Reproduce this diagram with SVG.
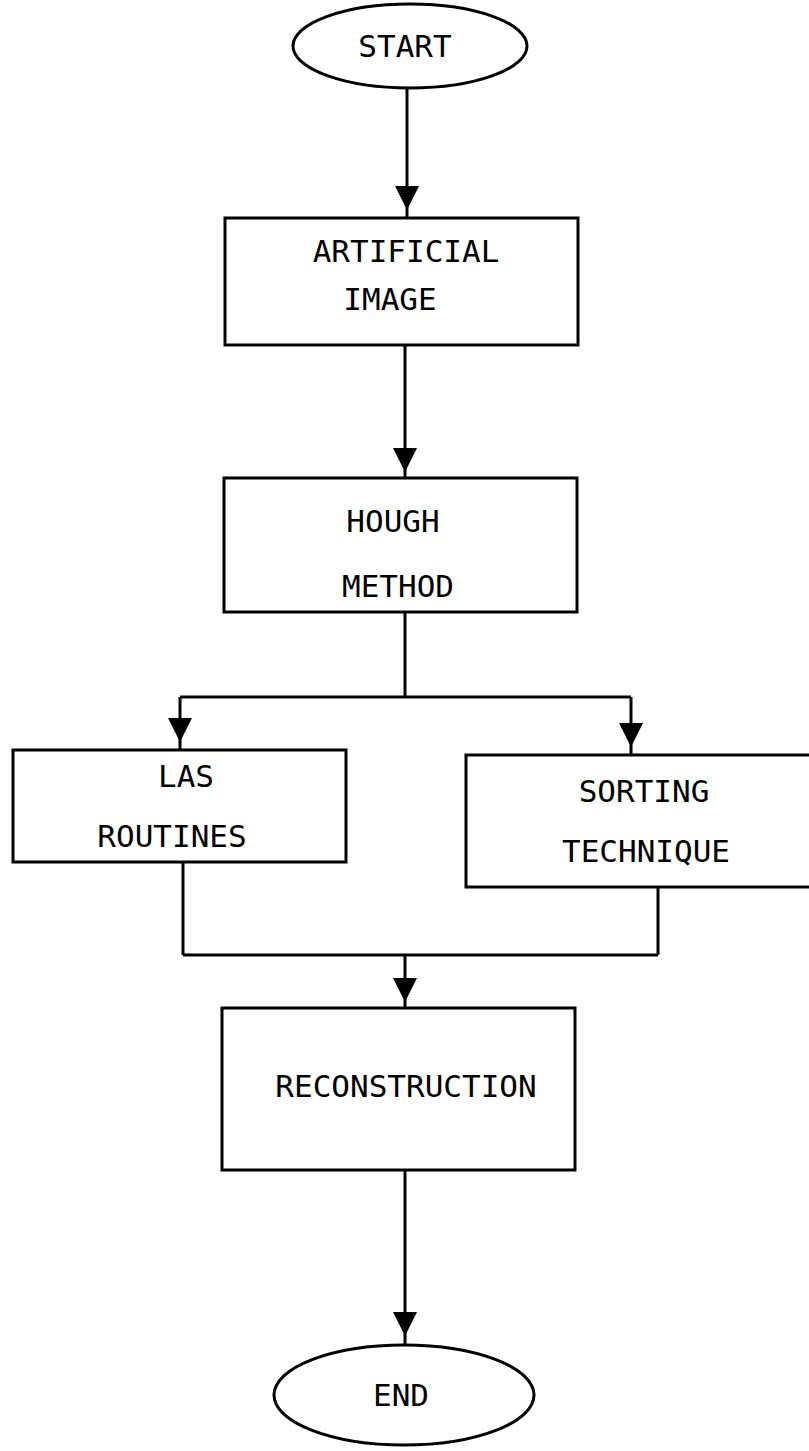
<svg xmlns="http://www.w3.org/2000/svg" xmlns:xlink="http://www.w3.org/1999/xlink" width="809" height="1451" viewBox="0 0 809 1451">
<style>
.shape{fill:#fff;stroke:#000;stroke-width:3}
.ln{fill:none;stroke:#000;stroke-width:3}
.t{font-family:"DejaVu Sans Mono","Liberation Mono",monospace;font-size:31px;fill:#000;text-anchor:middle}
</style>
<defs>
<path id="ah" d="M-12,0 L12,0 L0,24 Z" fill="#000"/>
</defs>
<rect width="809" height="1451" fill="#fff"/>
<g id="connectors">
<path class="ln" d="M407,88 V218"/>
<use xlink:href="#ah" x="407" y="186"/>
<path class="ln" d="M405,345 V478"/>
<use xlink:href="#ah" x="405" y="448"/>
<path class="ln" d="M405,612 V697 M180,697 H631 M180,697 V750 M631,697 V755"/>
<use xlink:href="#ah" x="180" y="718"/>
<use xlink:href="#ah" x="631" y="723"/>
<path class="ln" d="M183,862 V955 M658,887 V955 M183,955 H658 M405,955 V1008"/>
<use xlink:href="#ah" x="405" y="978"/>
<path class="ln" d="M405,1170 V1345"/>
<use xlink:href="#ah" x="405" y="1312"/>
</g>
<g id="start">
<ellipse class="shape" cx="410" cy="46" rx="117" ry="42"/>
<text class="t" x="405" y="57">START</text>
</g>
<g id="artificial">
<rect class="shape" x="225" y="218" width="353" height="127"/>
<text class="t" x="406" y="262">ARTIFICIAL</text>
<text class="t" x="390" y="310">IMAGE</text>
</g>
<g id="hough">
<rect class="shape" x="224" y="478" width="353" height="134"/>
<text class="t" x="393" y="532">HOUGH</text>
<text class="t" x="398" y="597">METHOD</text>
</g>
<g id="las">
<rect class="shape" x="13" y="750" width="333" height="112"/>
<text class="t" x="186" y="787">LAS</text>
<text class="t" x="172" y="847">ROUTINES</text>
</g>
<g id="sorting">
<rect class="shape" x="466" y="755" width="345" height="132"/>
<text class="t" x="644" y="802">SORTING</text>
<text class="t" x="646" y="862">TECHNIQUE</text>
</g>
<g id="reconstruction">
<rect class="shape" x="222" y="1008" width="353" height="162"/>
<text class="t" x="406" y="1097">RECONSTRUCTION</text>
</g>
<g id="end">
<ellipse class="shape" cx="404" cy="1395" rx="130" ry="50"/>
<text class="t" x="401" y="1406">END</text>
</g>
</svg>
